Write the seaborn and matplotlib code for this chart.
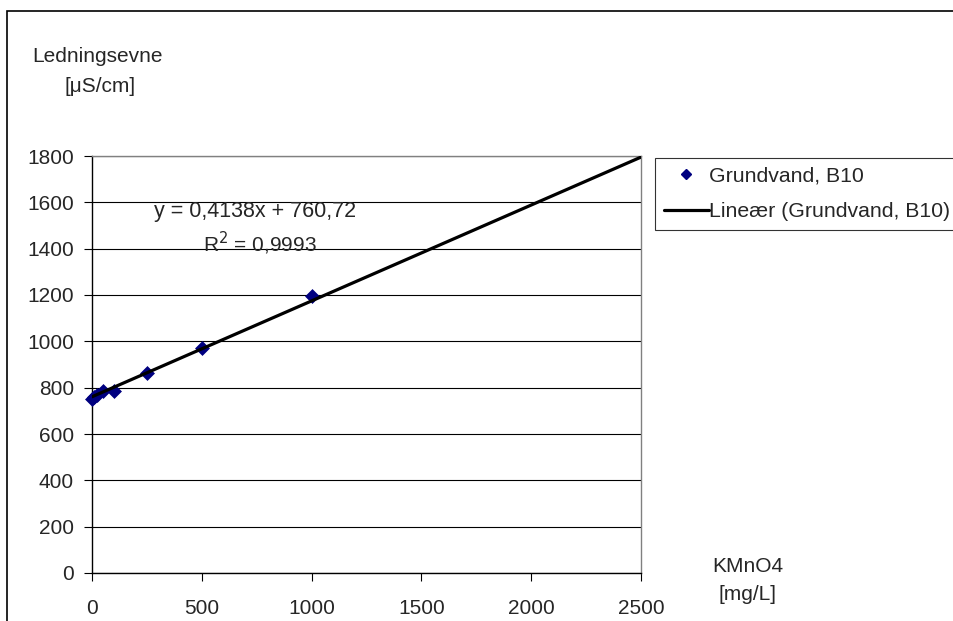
import matplotlib
matplotlib.use("Agg")
import matplotlib.pyplot as plt
import seaborn as sns
import numpy as np
import pandas as pd
from matplotlib.lines import Line2D
from matplotlib.patches import Rectangle

# Data
kmno4 = [0, 10, 25, 50, 100, 250, 500, 1000]
ledningsevne = [752, 760, 768, 785, 787, 862, 972, 1197]
slope = 0.4138
intercept = 760.72
r2 = 0.9993
x_ticks = [0, 500, 1000, 1500, 2000, 2500]
y_ticks = [0, 200, 400, 600, 800, 1000, 1200, 1400, 1600, 1800]
series_name = "Grundvand, B10"
trend_name = "Lineær (Grundvand, B10)"

FS = 15

sns.set_style("white")
plt.rcParams['font.family'] = ['Liberation Sans', 'DejaVu Sans']

fig = plt.figure(figsize=(9.54, 6.21), dpi=100)
ax = fig.add_axes([92/954, 48/621, (641-92)/954, (573-156)/621])

df = pd.DataFrame({"x": kmno4, "y": ledningsevne})
trend_x = np.array([0, 2500])
trend_df = pd.DataFrame({"x": trend_x, "y": slope * trend_x + intercept})

sns.scatterplot(data=df, x="x", y="y", ax=ax, marker="D", s=50, color="#000080",
                edgecolor="#000080", linewidth=0.5, zorder=4, clip_on=False)
sns.lineplot(data=trend_df, x="x", y="y", ax=ax, color="black", linewidth=2.3, zorder=5)

ax.set_xlim(0, 2500)
ax.set_ylim(0, 1800)
ax.set_xticks(x_ticks)
ax.set_yticks(y_ticks)
ax.set_xticklabels([str(v) for v in x_ticks], fontsize=FS)
ax.set_yticklabels([str(v) for v in y_ticks], fontsize=FS)
ax.set_xlabel("")
ax.set_ylabel("")
ax.yaxis.grid(True, color="black", linewidth=0.8)
ax.xaxis.grid(False)
ax.set_axisbelow(True)
ax.tick_params(axis="both", direction="out", length=5.5, width=0.8, color="black",
               left=True, bottom=True)
ax.tick_params(axis="y", pad=7.5)
ax.tick_params(axis="x", pad=13)
for s in ["left", "bottom"]:
    ax.spines[s].set_color("black")
    ax.spines[s].set_linewidth(1.0)
for s in ["top", "right"]:
    ax.spines[s].set_color("#808080")
    ax.spines[s].set_linewidth(1.0)
ax.set_zorder(2)

# Trendline equation
ax.text(154/954, 1 - 212/621, "y = 0,4138x + 760,72", transform=fig.transFigure,
        fontsize=15.5, va="center", ha="left")
ax.text(203/954, 1 - 243/621, "R$^2$ = 0,9993", transform=fig.transFigure,
        fontsize=FS, va="center", ha="left")

# Axis titles
fig.text(98/954, 1 - 57/621, "Ledningsevne", fontsize=FS, ha="center", va="center")
fig.text(100/954, 1 - 86/621, "[\u03bcS/cm]", fontsize=FS, ha="center", va="center")
fig.text(748/954, 1 - 566/621, "KMnO4", fontsize=FS, ha="center", va="center")
fig.text(748/954, 1 - 594/621, "[mg/L]", fontsize=FS, ha="center", va="center")

# Legend
handles = [Line2D([], [], marker="D", linestyle="none", color="#000080", markersize=5.5),
           Line2D([], [], color="black", linewidth=2.3)]
leg = fig.legend(handles, [series_name, trend_name], loc="upper left",
                 bbox_to_anchor=(655/954, 1 - 158/621), frameon=True, fancybox=False,
                 edgecolor="black", fontsize=15.3, handlelength=2.1, handletextpad=0.02,
                 borderpad=0.42, labelspacing=0.76, borderaxespad=0)
leg.get_frame().set_linewidth(0.8)

# Outer chart border
fig.patches.append(Rectangle((7/954, -0.1), 1.2, 1 - 11/621 + 0.1, transform=fig.transFigure,
                             fill=False, edgecolor="black", linewidth=1.2, zorder=0))

fig.savefig("out.png", dpi=100)
